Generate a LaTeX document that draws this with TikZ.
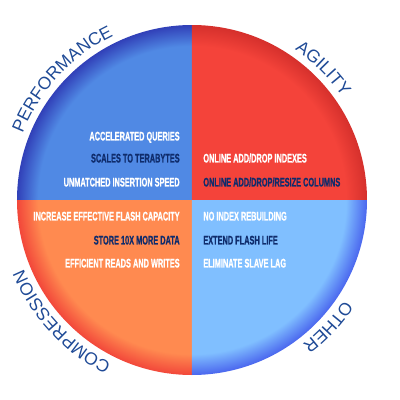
\documentclass[tikz,border=0pt]{standalone}
\usepackage{fontspec}
\usetikzlibrary{decorations.text}
\setmainfont{Liberation Sans}
\newfontfamily\itemfont[FakeStretch=0.59,FakeBold=0.7]{Liberation Sans}
\newcommand{\labfont}{\fontsize{10pt}{12pt}\selectfont}

\definecolor{perfblue}{HTML}{5089E4}
\definecolor{perfedge}{HTML}{3140B8}
\definecolor{agilred}{HTML}{F4433A}
\definecolor{agiledge}{HTML}{D5302C}
\definecolor{comporange}{HTML}{FF8A50}
\definecolor{compedge}{HTML}{F2473A}
\definecolor{otherblue}{HTML}{80BFFF}
\definecolor{otheredge}{HTML}{4A66EE}
\definecolor{labelblue}{HTML}{1F4A96}
\definecolor{itemnavy}{HTML}{0F2C6C}

\pgfdeclareradialshading{perfshade}{\pgfpoint{0bp}{0bp}}{color(0bp)=(perfblue); color(22bp)=(perfblue); color(25bp)=(perfedge); color(50bp)=(perfedge)}
\pgfdeclareradialshading{agilshade}{\pgfpoint{0bp}{0bp}}{color(0bp)=(agilred); color(22bp)=(agilred); color(25bp)=(agiledge); color(50bp)=(agiledge)}
\pgfdeclareradialshading{compshade}{\pgfpoint{0bp}{0bp}}{color(0bp)=(comporange); color(22bp)=(comporange); color(25bp)=(compedge); color(50bp)=(compedge)}
\pgfdeclareradialshading{othershade}{\pgfpoint{0bp}{0bp}}{color(0bp)=(otherblue); color(22bp)=(otherblue); color(25bp)=(otheredge); color(50bp)=(otheredge)}

\tikzstyle{chart}=[x=0.02cm,y=0.02cm]
\tikzstyle{item}=[inner sep=0pt,text height=5.1pt,text depth=0pt,font=\itemfont\bfseries\fontsize{7.1pt}{8pt}\selectfont,text=white]
\tikzstyle{itemdark}=[item,text=itemnavy]
\tikzstyle{arclabel}=[decorate,decoration={text along path,text align=center,text color=labelblue}]

\begin{document}
\begin{tikzpicture}[style=chart]
\useasboundingbox (-192,-200) rectangle (208,200);

\begin{scope}
\clip (0,0) rectangle (-180,180);
\shade[shading=perfshade] (0,0) circle (175);
\end{scope}
\begin{scope}
\clip (0,0) rectangle (180,180);
\shade[shading=agilshade] (0,0) circle (175);
\end{scope}
\begin{scope}
\clip (0,0) rectangle (-180,-180);
\shade[shading=compshade] (0,0) circle (175);
\end{scope}
\begin{scope}
\clip (0,0) rectangle (180,-180);
\shade[shading=othershade] (0,0) circle (175);
\end{scope}

\path[arclabel,decoration={text={|\labfont|PERFORMANCE}}] (167:182) arc[start angle=167,end angle=107,radius=182];
\path[arclabel,decoration={text={|\labfont|AGILITY}}] (75:182) arc[start angle=75,end angle=15,radius=182];
\path[arclabel,decoration={text={|\labfont|COMPRESSION}}] (253:182) arc[start angle=253,end angle=193,radius=182];
\path[arclabel,decoration={text={|\labfont|OTHER}}] (-13:182) arc[start angle=-13,end angle=-73,radius=182];

\node[item,anchor=east] (accel) at (-12,64) {ACCELERATED QUERIES};
\node[itemdark,anchor=east] (scales) at (-12,42) {SCALES TO TERABYTES};
\node[item,anchor=east] (insert) at (-12,18) {UNMATCHED INSERTION SPEED};

\node[item,anchor=west] (dropidx) at (11,42) {ONLINE ADD/DROP INDEXES};
\node[itemdark,anchor=west] (dropcol) at (11,18) {ONLINE ADD/DROP/RESIZE COLUMNS};

\node[item,anchor=east] (flashcap) at (-12,-16) {INCREASE EFFECTIVE FLASH CAPACITY};
\node[itemdark,anchor=east] (store) at (-12,-40) {STORE 10X MORE DATA};
\node[item,anchor=east] (reads) at (-12,-63) {EFFICIENT READS AND WRITES};

\node[item,anchor=west] (rebuild) at (11,-16) {NO INDEX REBUILDING};
\node[itemdark,anchor=west] (flashlife) at (11,-40) {EXTEND FLASH LIFE};
\node[item,anchor=west] (slavelag) at (11,-63) {ELIMINATE SLAVE LAG};
\end{tikzpicture}
\end{document}
